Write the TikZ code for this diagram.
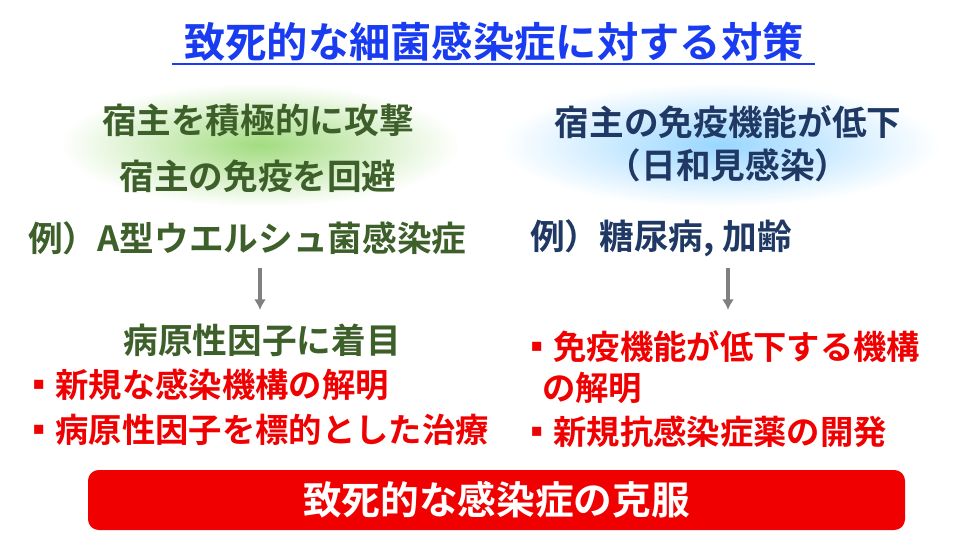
\documentclass[tikz,border=0pt]{standalone}
\usepackage{fontspec}
\usetikzlibrary{arrows.meta}
\setmainfont{Noto Sans CJK JP}[BoldFont={* Bold}]
\begin{document}
\definecolor{dg}{HTML}{3D5F2A}
\definecolor{nv}{HTML}{1F3864}
\definecolor{rd}{HTML}{F00000}
\definecolor{bl}{HTML}{1A3CF0}
\begin{tikzpicture}[x=0.75pt,y=-0.75pt,
  g/.style={font=\bfseries\fontsize{26}{30}\selectfont,text=dg,inner sep=0},
  n/.style={font=\bfseries\fontsize{26}{30}\selectfont,text=nv,inner sep=0},
  r/.style={font=\bfseries\fontsize{25}{30}\selectfont,text=rd,inner sep=0,anchor=west},
  ar/.style={-{Latex[length=8pt,width=9pt]},line width=3pt,draw=gray}]
\useasboundingbox (0,0) rectangle (976,547);
\node[font=\bfseries\fontsize{31}{34}\selectfont,text=bl,inner sep=0] (t) at (494,42) {致死的な細菌感染症に対する対策};
\draw[bl,line width=1.5pt] (172,64) -- (815,64);
\shade[inner color=green!45!olive!50,outer color=white] (60,83) rectangle (460,207);
\shade[inner color=blue!40!cyan!40,outer color=white] (500,83) rectangle (940,207);
\node[g] (l1) at (258,120) {宿主を積極的に攻撃};
\node[g] (l2) at (258,176) {宿主の免疫を回避};
\node[g,anchor=west] (l3) at (28,238) {例）A型ウエルシュ菌感染症};
\node[g] (l4) at (262,340) {病原性因子に着目};
\coordinate (la) at (260,268);
\draw[ar] (la) -- (260,310);
\node[r] (l5) at (22,385) {▪新規な感染機構の解明};
\node[r] (l6) at (22,430) {▪病原性因子を標的とした治療};
\node[n] (r1) at (728,122) {宿主の免疫機能が低下};
\node[n] (r2) at (728,165) {（日和見感染）};
\node[n,anchor=west] (r3) at (530,238) {例）糖尿病, 加齢};
\coordinate (ra) at (728,268);
\draw[ar] (ra) -- (728,310);
\node[r] (r4) at (520,347) {▪免疫機能が低下する機構};
\node[r] (r5) at (542,388) {の解明};
\node[r] (r6) at (520,432) {▪新規抗感染症薬の開発};
\node[draw=none,fill=rd,rounded corners=8pt,minimum width=817*0.75pt,minimum height=60*0.75pt,font=\bfseries\fontsize{29}{32}\selectfont,text=white] (bar) at (496.5,500) {致死的な感染症の克服};
\end{tikzpicture}
\end{document}
